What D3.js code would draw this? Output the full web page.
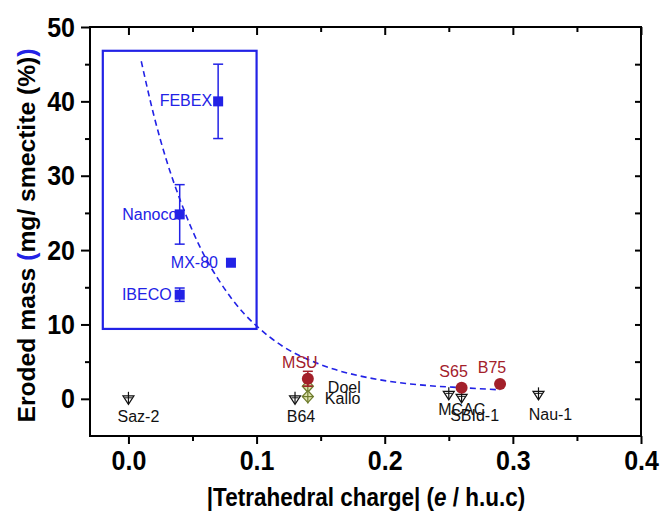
<!DOCTYPE html>
<html><head><meta charset="utf-8">
<script src="https://cdn.jsdelivr.net/npm/d3@7"></script>
<style>body{margin:0;background:#fff}svg{display:block}
.stretchY{transform-box:fill-box;transform-origin:center;transform:scaleY(1.12)}
.stretchX{transform-box:fill-box;transform-origin:center;transform:scaleX(1.05)}
</style>
</head><body><svg id="c" width="662" height="515"></svg>
<script>
// ---------- data ----------
const xTicks = [0.0, 0.1, 0.2, 0.3, 0.4];
const xMinorTicks = [0.05, 0.15, 0.25, 0.35];
const yTicks = [0, 10, 20, 30, 40, 50];
const yMinorTicks = [-5, 5, 15, 25, 35, 45];

const blueNames = ["FEBEX", "Nanocor", "MX-80", "IBECO"];
const blueX = [0.07, 0.04, 0.08, 0.04];
const blueY = [40, 24.8, 18.3, 14];
const blueErr = [5, 4, 0, 0.9];

const redNames = ["MSU", "S65", "B75"];
const redX = [0.14, 0.26, 0.29];
const redY = [2.7, 1.5, 2.0];
const redErr = [1.0, 0, 0];

const oliveNames = ["Doel", "Kallo"];
const oliveX = [0.14, 0.14];
const oliveY = [1.7, 0.3];

const triNames = ["Saz-2", "B64", "MCAC", "SBId-1", "Nau-1"];
const triX = [0.0, 0.13, 0.25, 0.26, 0.32];
const triY = [0.0, 0.0, 0.6, 0.2, 0.6];

const fitX = [0.01, 0.02, 0.03, 0.04, 0.05, 0.06, 0.07, 0.08, 0.09, 0.10, 0.12, 0.14, 0.16, 0.18, 0.20, 0.22, 0.24, 0.26, 0.28, 0.29];
const fitY = [45.4, 38.0, 31.9, 26.9, 22.6, 19.0, 16.1, 13.6, 11.5, 9.8, 7.1, 5.3, 4.0, 3.1, 2.45, 2.0, 1.7, 1.5, 1.3, 1.2];

const boxX = [-0.02, 0.10];
const boxY = [9.4, 46.8];

// ---------- layout / style ----------
const L = 90, R = 641, T = 27, B = 436;
const BLUE = "#2222e6", RED = "#a3202a", OLIVE = "#6e7c2c";
const FONT = "'Liberation Sans', Arial, sans-serif";
const labelPos = { // dx, dy, anchor (pixels, relative to point)
  "FEBEX": [-6, 5, "end"], "Nanocor": [3, 6, "end"], "MX-80": [-13, 5, "end"], "IBECO": [-8, 5, "end"],
  "MSU": [-8, -11, "middle"], "S65": [-8, -11, "middle"], "B75": [-8, -11, "middle"],
  "Doel": [20, 7, "start"], "Kallo": [17, 7, "start"],
  "Saz-2": [10, 23, "middle"], "B64": [6, 23, "middle"], "MCAC": [13, 21, "middle"],
  "SBId-1": [13, 24, "middle"], "Nau-1": [12, 26, "middle"]
};

const svg = d3.select("#c");
const x = d3.scaleLinear().domain([-0.03, 0.4]).range([L, R]);
const y = d3.scaleLinear().domain([-5, 50]).range([B, T]);

// ---------- axes ----------
function styleAxis(g) { g.select(".domain").remove(); g.selectAll("line").attr("stroke", "#000").attr("stroke-width", 2); }
const tickFont = g => g.selectAll("text").attr("font-family", FONT).attr("font-weight", "bold")
  .attr("font-size", 25).attr("fill", "#000").attr("class", "stretchY");

svg.append("g").attr("transform", `translate(0,${B})`)
  .call(d3.axisBottom(x).tickValues(xTicks).tickFormat(d3.format(".1f")).tickSize(8).tickPadding(7))
  .call(styleAxis).call(tickFont);
svg.append("g").attr("transform", `translate(0,${B})`)
  .call(d3.axisBottom(x).tickValues(xMinorTicks).tickFormat("").tickSize(5)).call(styleAxis);
svg.append("g").attr("transform", `translate(0,${T})`)
  .call(d3.axisBottom(x).tickValues(xTicks).tickFormat("").tickSize(8)).call(styleAxis);
svg.append("g").attr("transform", `translate(0,${T})`)
  .call(d3.axisBottom(x).tickValues(xMinorTicks).tickFormat("").tickSize(5)).call(styleAxis);

svg.append("g").attr("transform", `translate(${L},0)`)
  .call(d3.axisLeft(y).tickValues(yTicks).tickFormat(d3.format("d")).tickSize(9).tickPadding(6))
  .call(styleAxis).call(tickFont);
svg.append("g").attr("transform", `translate(${L},0)`)
  .call(d3.axisLeft(y).tickValues(yMinorTicks.filter(v => v > -5)).tickFormat("").tickSize(5)).call(styleAxis);
svg.append("g").attr("transform", `translate(${R},0)`)
  .call(d3.axisLeft(y).tickValues(yTicks.concat(yMinorTicks).filter(v => v > -5 && v < 50)).tickFormat("").tickSize(6)).call(styleAxis);

svg.append("rect").attr("x", L).attr("y", T).attr("width", R - L).attr("height", B - T)
  .attr("fill", "none").attr("stroke", "#000").attr("stroke-width", 2);

// ---------- titles ----------
const yt = svg.append("g").attr("transform", `translate(35,${(T + B) / 2 + 4}) rotate(-90)`)
  .append("text").attr("class", "stretchX")
  .attr("text-anchor", "middle").attr("font-family", FONT).attr("font-weight", "bold").attr("font-size", 23.5);
yt.append("tspan").text("Eroded mass ");
yt.append("tspan").attr("fill", BLUE).text("(");
yt.append("tspan").text("mg/ smectite (%)");
yt.append("tspan").attr("fill", BLUE).text(")");

const xt = svg.append("text").attr("x", 366).attr("y", 505).attr("text-anchor", "middle").attr("class", "stretchY")
  .attr("font-family", FONT).attr("font-weight", "bold").attr("font-size", 22.5);
xt.append("tspan").text("|Tetrahedral charge| (");
xt.append("tspan").attr("font-style", "italic").text("e");
xt.append("tspan").text(" / h.u.c)");

// ---------- blue box ----------
svg.append("rect").attr("x", x(boxX[0])).attr("y", y(boxY[1]))
  .attr("width", x(boxX[1]) - x(boxX[0])).attr("height", y(boxY[0]) - y(boxY[1]))
  .attr("fill", "none").attr("stroke", BLUE).attr("stroke-width", 2.2);

// ---------- fit line ----------
svg.append("path").datum(fitX.map((v, i) => [v, fitY[i]]))
  .attr("d", d3.line().x(d => x(d[0])).y(d => y(d[1])).curve(d3.curveMonotoneX))
  .attr("fill", "none").attr("stroke", BLUE).attr("stroke-width", 1.6).attr("stroke-dasharray", "6,4");

function label(name, px, py, color) {
  const p = labelPos[name];
  svg.append("text").attr("x", px + p[0]).attr("y", py + p[1]).attr("text-anchor", p[2])
    .attr("font-family", FONT).attr("font-size", 16).attr("fill", color).text(name);
}
function errBar(px, v, e, color) {
  if (!e) return;
  const y1 = y(v + e), y2 = y(v - e);
  svg.append("line").attr("x1", px).attr("x2", px).attr("y1", y1).attr("y2", y2).attr("stroke", color).attr("stroke-width", 1.5);
  [y1, y2].forEach(yy => svg.append("line").attr("x1", px - 5).attr("x2", px + 5).attr("y1", yy).attr("y2", yy).attr("stroke", color).attr("stroke-width", 1.5));
}

// triangles (open, down)
triNames.forEach((n, i) => {
  const px = x(triX[i]), py = y(triY[i]);
  label(n, px, py, "#111");
  const g = svg.append("g").attr("transform", `translate(${px},${py})`);
  g.append("path").attr("d", "M-5.5,-3 L5.5,-3 L0,5.5 Z").attr("fill", "#fff").attr("stroke", "#111").attr("stroke-width", 1.2);
  g.append("line").attr("x1", 0).attr("x2", 0).attr("y1", -7).attr("y2", 5).attr("stroke", "#111").attr("stroke-width", 1.2);
  g.append("line").attr("x1", -3.5).attr("x2", 3.5).attr("y1", -1).attr("y2", -1).attr("stroke", "#111").attr("stroke-width", 1);
});

// olive diamonds
svg.append("line").attr("x1", x(oliveX[0])).attr("x2", x(oliveX[0])).attr("y1", y(oliveY[0]) - 7).attr("y2", y(oliveY[1]) + 7)
  .attr("stroke", OLIVE).attr("stroke-width", 1.3);
oliveNames.forEach((n, i) => {
  const px = x(oliveX[i]), py = y(oliveY[i]);
  label(n, px, py, "#111");
  const g = svg.append("g").attr("transform", `translate(${px},${py})`);
  g.append("path").attr("d", "M0,-6 L5.5,0 L0,6 L-5.5,0 Z").attr("fill", "#dfe3b0").attr("stroke", OLIVE).attr("stroke-width", 1.3);
  g.append("line").attr("x1", -5.5).attr("x2", 5.5).attr("y1", 0).attr("y2", 0).attr("stroke", OLIVE).attr("stroke-width", 1.2);
  g.append("line").attr("x1", 0).attr("x2", 0).attr("y1", -6).attr("y2", 6).attr("stroke", OLIVE).attr("stroke-width", 1.2);
});

// red circles
redNames.forEach((n, i) => {
  const px = x(redX[i]), py = y(redY[i]);
  label(n, px, py, RED);
  errBar(px, redY[i], redErr[i], RED);
  svg.append("circle").attr("cx", px).attr("cy", py).attr("r", 6).attr("fill", RED);
});

// blue squares
blueNames.forEach((n, i) => {
  const px = x(blueX[i]), py = y(blueY[i]);
  label(n, px, py, BLUE);
  errBar(px, blueY[i], blueErr[i], BLUE);
  svg.append("rect").attr("x", px - 5).attr("y", py - 5).attr("width", 10).attr("height", 10).attr("fill", BLUE);
});
</script></body></html>
